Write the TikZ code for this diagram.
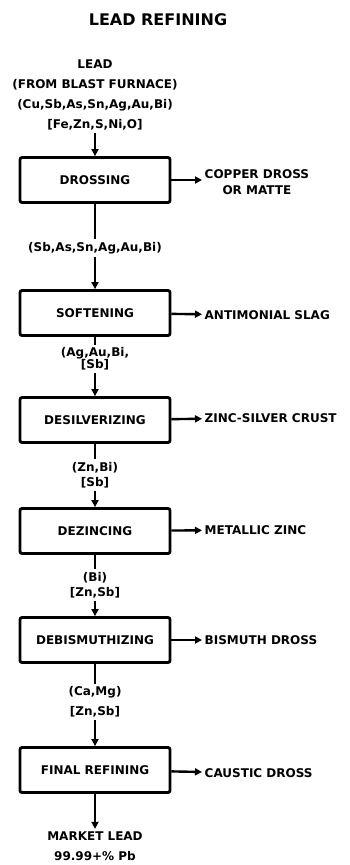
\documentclass[tikz,border=0pt]{standalone}
\usepackage{fontspec}
\setmainfont{DejaVu Sans}
\usetikzlibrary{arrows.meta}

\begin{document}
\begin{tikzpicture}[x=1pt, y=-1pt, line width=2.4pt,
    every node/.style={font=\bfseries\fontsize{12}{16}\selectfont, inner sep=1.5pt},
    stage/.style={draw, line width=2.8pt, rounded corners=2pt, minimum width=150pt, minimum height=45pt},
    chem/.style={align=center, font=\bfseries\fontsize{12}{15}\selectfont},
    waste/.style={anchor=west, align=center},
    flow/.style={-{Triangle[length=7pt, width=7pt]}}]
  \useasboundingbox (0,0) rectangle (349,865);

  % nadpis
  \node (title) at (158,20) {\fontsize{16}{18}\selectfont LEAD REFINING};

  % vstup
  \node[chem, font=\bfseries\fontsize{12}{20}\selectfont] (feed) at (95,95)
    {LEAD\\(FROM BLAST FURNACE)\\(Cu,Sb,As,Sn,Ag,Au,Bi)\\{[}Fe,Zn,S,Ni,O]};

  % kroky rafinace
  \node[stage] (dross)  at (95,180) {DROSSING};
  \node[stage] (soft)   at (95,313) {SOFTENING};
  \node[stage] (desil)  at (95,420) {DESILVERIZING};
  \node[stage] (dezinc) at (95,531) {DEZINCING};
  \node[stage] (debis)  at (95,640) {DEBISMUTHIZING};
  \node[stage] (final)  at (95,770) {FINAL REFINING};

  % prvky mezi kroky
  \node[chem] (sb) at (95,248) {(Sb,As,Sn,Ag,Au,Bi)};
  \node[chem, font=\bfseries\fontsize{12}{12}\selectfont] (ag) at (95,359) {(Ag,Au,Bi,\\{[}Sb]};
  \node[chem] (zn) at (95,475) {(Zn,Bi)\\{[}Sb]};
  \node[chem] (bi) at (95,585) {(Bi)\\{[}Zn,Sb]};
  \node[chem, font=\bfseries\fontsize{12}{20}\selectfont] (ca) at (95,702) {(Ca,Mg)\\{[}Zn,Sb]};

  % vedlejsi produkty
  \node[waste] (cu)   at (202,182) {COPPER DROSS\\OR MATTE};
  \node[waste] (slag) at (202,315) {ANTIMONIAL SLAG};
  \node[waste] (crust) at (202,418) {ZINC-SILVER CRUST};
  \node[waste] (zinc) at (202,530) {METALLIC ZINC};
  \node[waste] (bism) at (202,640) {BISMUTH DROSS};
  \node[waste] (caus) at (202,773) {CAUSTIC DROSS};

  % produkt
  \node[chem, font=\bfseries\fontsize{12}{20}\selectfont] (market) at (95,846) {MARKET LEAD\\99.99+\% Pb};

  % hlavni tok
  \draw[flow] (feed) -- (dross);
  \draw (dross) -- (sb);
  \draw[flow] (sb) -- (soft);
  \draw (soft) -- (ag);
  \draw[flow] (ag) -- (desil);
  \draw (desil) -- (zn);
  \draw[flow] (zn) -- (dezinc);
  \draw (dezinc) -- (bi);
  \draw[flow] (bi) -- (debis);
  \draw (debis) -- (ca);
  \draw[flow] (ca) -- (final);
  \draw[flow] (final) -- (market);

  % odbocky
  \draw[flow] (dross.east) -- (dross.east -| cu.west);
  \draw[flow] (soft) -- (slag);
  \draw[flow] (desil) -- (crust);
  \draw[flow] (dezinc) -- (zinc);
  \draw[flow] (debis) -- (bism);
  \draw[flow] (final) -- (caus);
\end{tikzpicture}
\end{document}
